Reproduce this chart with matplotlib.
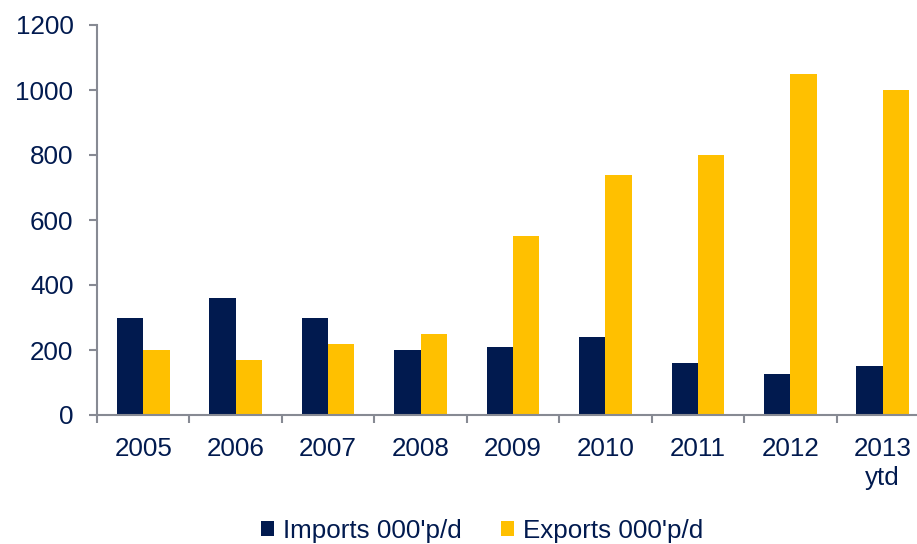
import numpy as np
import matplotlib.pyplot as plt

# Data
years = ['2005', '2006', '2007', '2008', '2009', '2010', '2011', '2012', '2013\nytd']
imports = [300, 360, 300, 200, 210, 240, 160, 125, 150]
exports = [200, 170, 220, 250, 550, 740, 800, 1050, 1000]

navy = '#011a4f'
yellow = '#ffc000'
axis_grey = '#878a93'
fs = 18.7

plt.rcParams['font.family'] = ['Liberation Sans', 'DejaVu Sans']

fig = plt.figure(figsize=(9.17, 5.44), dpi=100)
# axes runs past the right edge, as in the original (cropped)
ax = fig.add_axes([97 / 917, 129 / 544, 832 / 917, 390 / 544])

x = np.arange(len(years))
w = 0.285
ax.bar(x - w / 2, imports, w, color=navy, label="Imports 000'p/d")
ax.bar(x + w / 2, exports, w, color=yellow, label="Exports 000'p/d")

ax.set_xlim(-0.5, len(years) - 0.5)
ax.set_ylim(0, 1200)
ax.set_yticks(np.arange(0, 1201, 200))

ax.set_xticks(x)
ax.set_xticklabels(years, linespacing=1.3)
ax.set_xticks(np.arange(-0.5, len(years), 1), minor=True)

for s in ['top', 'right']:
    ax.spines[s].set_visible(False)
for s in ['left', 'bottom']:
    ax.spines[s].set_color(axis_grey)
    ax.spines[s].set_linewidth(1.5)

ax.tick_params(axis='y', direction='out', length=5.5, width=1.5, color=axis_grey,
               labelsize=fs, labelcolor=navy, pad=11.5)
ax.tick_params(axis='x', which='major', length=0, labelsize=fs, labelcolor=navy, pad=15.5)
ax.tick_params(axis='x', which='minor', direction='out', length=6, width=1.5, color=axis_grey)

leg = fig.legend(loc='center', bbox_to_anchor=(482 / 917, 1 - 531 / 544), ncol=2,
                 frameon=False, fontsize=fs, handlelength=0.5, handleheight=0.5,
                 handletextpad=0.35, columnspacing=1.5, borderaxespad=0)
for t in leg.get_texts():
    t.set_color(navy)

fig.savefig('out.png', dpi=100)
